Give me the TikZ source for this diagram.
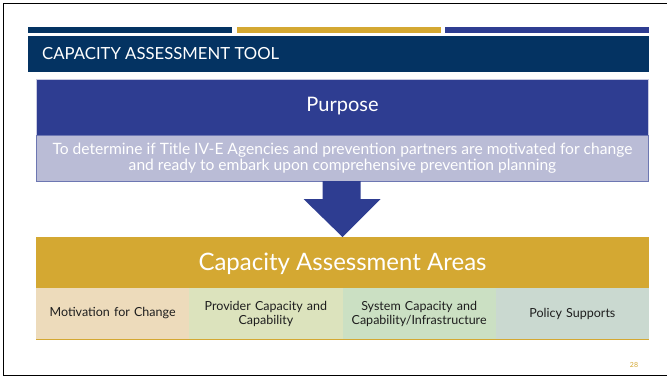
\documentclass[tikz,border=0pt]{standalone}
\usepackage{fontspec}
\setmainfont{Lato}
\usetikzlibrary{calc}
\definecolor{navy}{RGB}{4,51,98}
\definecolor{gold}{RGB}{212,168,50}
\definecolor{royal}{RGB}{46,61,145}
\definecolor{lav}{RGB}{186,188,214}
\definecolor{lavline}{RGB}{200,202,226}
\definecolor{boxA}{RGB}{237,219,187}
\definecolor{boxB}{RGB}{220,227,189}
\definecolor{boxC}{RGB}{203,224,195}
\definecolor{boxD}{RGB}{202,217,208}
\definecolor{ink}{RGB}{30,30,30}
\begin{document}
\begin{tikzpicture}[x=1pt,y=-1pt,
  band/.style={anchor=north west, inner sep=0pt, outer sep=0pt},
  areabox/.style={band, minimum width=153.25pt, minimum height=51pt, text=ink, align=center,
     font=\fontsize{12.5}{14}\selectfont, text width=150pt}
]
\useasboundingbox (0,0) rectangle (667,378);
\fill[white] (0,0) rectangle (667,378);
\draw[line width=1.6pt] (667,3.5) -- (3.5,3.5) -- (3.5,375.5) -- (667,375.5);
% top bars
\fill[navy] (28,27) rectangle (232,33);
\fill[gold] (237,27) rectangle (441,33);
\fill[royal] (445,27) rectangle (649,33);
% title band
\node[band, fill=navy, minimum width=621pt, minimum height=35.7pt] (titleband) at (28,36) {};
\node[anchor=west, text=white, inner sep=0pt, font=\fontsize{16.7}{18}\selectfont] (titletext) at (42,54) {CAPACITY ASSESSMENT TOOL};
% purpose
\node[band, fill=royal, draw=lavline, line width=0.7pt, minimum width=612pt, minimum height=56pt] (purpose) at (36,79) {};
\node[text=white, font=\fontsize{20}{22}\selectfont, inner sep=0pt] (purposetext) at (342.5,106) {Purpose};
\node[band, fill=lav, draw=royal!70, line width=0.6pt, minimum width=612pt, minimum height=46pt] (desc) at (36,135) {};
\node[text=white, align=center, inner sep=0pt, font=\fontsize{15.6}{16.5}\selectfont] (desctext) at (342.5,158)
  {To determine if Title IV-E Agencies and prevention partners are motivated for change\\and ready to embark upon comprehensive prevention planning};
% areas
\node[band, fill=gold, minimum width=613pt, minimum height=51pt] (areas) at (36,237) {};
\node[text=white, inner sep=0pt, font=\fontsize{24}{26}\selectfont] (areastext) at (342.5,263.5) {Capacity Assessment Areas};
% arrow
\fill[royal] ($(desc.south)+(-19.5,0)$) -- ($(desc.south)+(18.5,0)$) -- ($(desc.south)+(18.5,18)$)
  -- ($(desc.south)+(38.5,18)$) -- (areas.north) -- ($(desc.south)+(-38.5,18)$) -- ($(desc.south)+(-19.5,18)$) -- cycle;
% boxes
\node[areabox, fill=boxA] (b1) at (36,288) {Motivation for Change};
\node[areabox, fill=boxB] (b2) at (189.25,288) {Provider Capacity and\\Capability};
\node[areabox, fill=boxC] (b3) at (342.5,288) {System Capacity and\\Capability/Infrastructure};
\node[areabox, fill=boxD] (b4) at (495.75,288) {Policy Supports};
\draw[gold, line width=1pt] (b1.south west) -- (b4.south east);
% page number
\node[text=gold, inner sep=0pt, font=\fontsize{7}{8}\selectfont] (pagenum) at (634,365) {28};
\end{tikzpicture}
\end{document}
